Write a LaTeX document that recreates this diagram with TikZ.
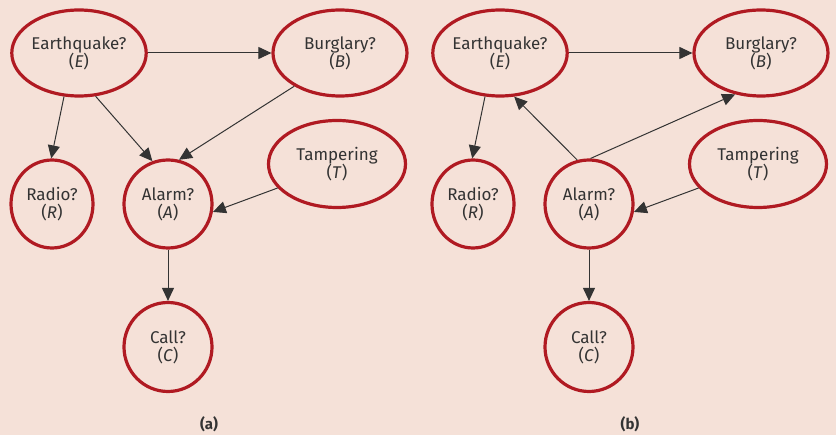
\documentclass[tikz,border=0pt]{standalone}
\usepackage{fontspec}
\setmainfont{Fira Sans}
\usetikzlibrary{arrows.meta,shapes.geometric}
\definecolor{bgpink}{HTML}{F5E1D8}
\definecolor{nodered}{HTML}{B01A22}
\definecolor{inkgray}{HTML}{333333}
\tikzset{
  var/.style={ellipse, draw=nodered, line width=3.2pt, text=inkgray,
    align=center, font=\fontsize{17}{18}\selectfont, inner sep=0pt},
  edge/.style={draw=inkgray, line width=1pt,
    -{Triangle[length=13pt,width=12pt]}},
  panellabel/.style={font=\bfseries\fontsize{15}{17}\selectfont, text=inkgray}
}
\newcommand{\bnet}[3]{%
  % #1 = prefix, #2 = x offset
  \node[var, minimum width=134pt, minimum height=86pt] (#1E) at (79+#2,53)
    {Earthquake?\\(\textit{E})};
  \node[var, minimum width=134pt, minimum height=86pt] (#1B) at (340+#2,53)
    {Burglary?\\(\textit{B})};
  \node[var, minimum width=82pt, minimum height=88pt] (#1R) at (52+#2,204)
    {Radio?\\(\textit{R})};
  \node[var, minimum width=88pt, minimum height=88pt] (#1A) at (168+#2,204)
    {Alarm?\\(\textit{A})};
  \node[var, minimum width=137pt, minimum height=87pt] (#1T) at (337+#2,164)
    {Tampering\\(\textit{T})};
  \node[var, minimum width=88pt, minimum height=89pt] (#1C) at (168+#2,347)
    {Call?\\(\textit{C})};
  \node[panellabel] (#1lab) at (209+#2,424) {#3};
}
\begin{document}
\begin{tikzpicture}[x=1pt, y=-1pt]
  \fill[bgpink] (0,0) rectangle (836,435);
  \useasboundingbox (0,0) rectangle (836,435);
  % left network
  \bnet{a}{0}{(a)}
  \draw[edge] (aE) -- (aB);
  \draw[edge] (aE.251) -- (aR.91);
  \draw[edge] (aE.291) -- (aA.110);
  \draw[edge] (aB.216) -- (aA.76);
  \draw[edge] (aT.202) -- (aA.350);
  \draw[edge] (aA) -- (aC);
  % right network
  \bnet{b}{421}{(b)}
  \draw[edge] (bE) -- (bB);
  \draw[edge] (bE.251) -- (bR.91);
  \draw[edge] (bA.105) -- (bE.288);
  \draw[edge] (bA.88) -- (bB.238);
  \draw[edge] (bT.202) -- (bA.350);
  \draw[edge] (bA) -- (bC);
\end{tikzpicture}
\end{document}
